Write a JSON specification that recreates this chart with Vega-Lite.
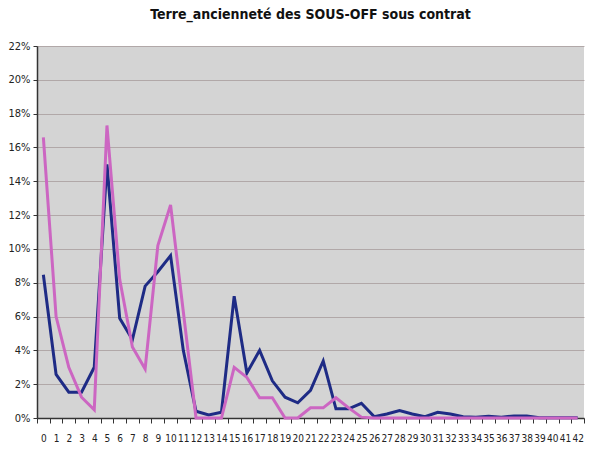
{
  "$schema": "https://vega.github.io/schema/vega-lite/v6.json",
  "width": 547,
  "height": 372,
  "autosize": {"type": "none"},
  "padding": {"left": 37, "top": 46, "right": 9, "bottom": 37},
  "background": "white",
  "title": {
    "text": "Terre_ancienneté des SOUS-OFF sous contrat",
    "font": "DejaVu Sans Condensed",
    "fontSize": 14,
    "fontWeight": "bold",
    "color": "#111",
    "anchor": "middle",
    "offset": 18
  },
  "config": {
    "view": {"fill": "#d4d4d4", "stroke": null},
    "axis": {
      "labelFont": "DejaVu Sans Condensed",
      "labelFontSize": 11,
      "labelColor": "#222",
      "domainColor": "#333",
      "tickColor": "#333",
      "title": null
    }
  },
  "data": {
    "values": [
      {"anc": 0, "serie": "A", "v": 0.0847}, {"anc": 1, "serie": "A", "v": 0.0258}, {"anc": 2, "serie": "A", "v": 0.0153},
      {"anc": 3, "serie": "A", "v": 0.0153}, {"anc": 4, "serie": "A", "v": 0.030}, {"anc": 5, "serie": "A", "v": 0.150},
      {"anc": 6, "serie": "A", "v": 0.059}, {"anc": 7, "serie": "A", "v": 0.0464}, {"anc": 8, "serie": "A", "v": 0.078},
      {"anc": 9, "serie": "A", "v": 0.0865}, {"anc": 10, "serie": "A", "v": 0.096}, {"anc": 11, "serie": "A", "v": 0.040},
      {"anc": 12, "serie": "A", "v": 0.004}, {"anc": 13, "serie": "A", "v": 0.0018}, {"anc": 14, "serie": "A", "v": 0.0034},
      {"anc": 15, "serie": "A", "v": 0.072}, {"anc": 16, "serie": "A", "v": 0.0266}, {"anc": 17, "serie": "A", "v": 0.040},
      {"anc": 18, "serie": "A", "v": 0.022}, {"anc": 19, "serie": "A", "v": 0.0123}, {"anc": 20, "serie": "A", "v": 0.0090},
      {"anc": 21, "serie": "A", "v": 0.0163}, {"anc": 22, "serie": "A", "v": 0.0337}, {"anc": 23, "serie": "A", "v": 0.0054},
      {"anc": 24, "serie": "A", "v": 0.0054}, {"anc": 25, "serie": "A", "v": 0.0087}, {"anc": 26, "serie": "A", "v": 0.0008},
      {"anc": 27, "serie": "A", "v": 0.0024}, {"anc": 28, "serie": "A", "v": 0.0044}, {"anc": 29, "serie": "A", "v": 0.0024},
      {"anc": 30, "serie": "A", "v": 0.0008}, {"anc": 31, "serie": "A", "v": 0.0034}, {"anc": 32, "serie": "A", "v": 0.0024},
      {"anc": 33, "serie": "A", "v": 0.0008}, {"anc": 34, "serie": "A", "v": 0.0005}, {"anc": 35, "serie": "A", "v": 0.001},
      {"anc": 36, "serie": "A", "v": 0.0005}, {"anc": 37, "serie": "A", "v": 0.0012}, {"anc": 38, "serie": "A", "v": 0.0012},
      {"anc": 39, "serie": "A", "v": 0.0002}, {"anc": 40, "serie": "A", "v": 0.0002}, {"anc": 41, "serie": "A", "v": 0.0002},
      {"anc": 42, "serie": "A", "v": 0.0002},
      {"anc": 0, "serie": "B", "v": 0.166}, {"anc": 1, "serie": "B", "v": 0.060}, {"anc": 2, "serie": "B", "v": 0.030},
      {"anc": 3, "serie": "B", "v": 0.0123}, {"anc": 4, "serie": "B", "v": 0.0048}, {"anc": 5, "serie": "B", "v": 0.173},
      {"anc": 6, "serie": "B", "v": 0.082}, {"anc": 7, "serie": "B", "v": 0.042}, {"anc": 8, "serie": "B", "v": 0.029},
      {"anc": 9, "serie": "B", "v": 0.102}, {"anc": 10, "serie": "B", "v": 0.126}, {"anc": 11, "serie": "B", "v": 0.063},
      {"anc": 12, "serie": "B", "v": 0.0}, {"anc": 13, "serie": "B", "v": 0.0}, {"anc": 14, "serie": "B", "v": 0.0},
      {"anc": 15, "serie": "B", "v": 0.030}, {"anc": 16, "serie": "B", "v": 0.024}, {"anc": 17, "serie": "B", "v": 0.012},
      {"anc": 18, "serie": "B", "v": 0.012}, {"anc": 19, "serie": "B", "v": 0.0}, {"anc": 20, "serie": "B", "v": 0.0},
      {"anc": 21, "serie": "B", "v": 0.006}, {"anc": 22, "serie": "B", "v": 0.006}, {"anc": 23, "serie": "B", "v": 0.012},
      {"anc": 24, "serie": "B", "v": 0.006}, {"anc": 25, "serie": "B", "v": 0.0005}, {"anc": 26, "serie": "B", "v": 0.0},
      {"anc": 27, "serie": "B", "v": 0.0}, {"anc": 28, "serie": "B", "v": 0.0}, {"anc": 29, "serie": "B", "v": 0.0},
      {"anc": 30, "serie": "B", "v": 0.0}, {"anc": 31, "serie": "B", "v": 0.0}, {"anc": 32, "serie": "B", "v": 0.0},
      {"anc": 33, "serie": "B", "v": 0.0}, {"anc": 34, "serie": "B", "v": 0.0}, {"anc": 35, "serie": "B", "v": 0.0},
      {"anc": 36, "serie": "B", "v": 0.0}, {"anc": 37, "serie": "B", "v": 0.0}, {"anc": 38, "serie": "B", "v": 0.0},
      {"anc": 39, "serie": "B", "v": 0.0}, {"anc": 40, "serie": "B", "v": 0.0}, {"anc": 41, "serie": "B", "v": 0.0},
      {"anc": 42, "serie": "B", "v": 0.0}
    ]
  },
  "mark": {"type": "line", "strokeWidth": 3, "strokeJoin": "miter"},
  "encoding": {
    "x": {
      "field": "anc",
      "type": "ordinal",
      "bandPosition": 0.5,
      "sort": "ascending",
      "scale": {"type": "band", "paddingInner": 0, "paddingOuter": 0},
      "axis": {"labelAngle": 0, "tickBand": "extent", "tickSize": 5, "labelPadding": 10, "domainWidth": 1.5, "labelFontSize": 10}
    },
    "y": {
      "field": "v",
      "type": "quantitative",
      "scale": {"domain": [0, 0.22], "nice": false},
      "axis": {"format": ".0%", "values": [0, 0.02, 0.04, 0.06, 0.08, 0.1, 0.12, 0.14, 0.16, 0.18, 0.2, 0.22], "tickSize": 4, "labelPadding": 3, "gridColor": "#a89c9c", "gridOpacity": 0.8, "gridWidth": 1.2, "domainWidth": 1.5}
    },
    "color": {
      "field": "serie",
      "type": "nominal",
      "scale": {"domain": ["A", "B"], "range": ["#1e2b85", "#cc66c2"]},
      "legend": null
    },
    "order": {"field": "serie", "sort": "descending"}
  }
}
